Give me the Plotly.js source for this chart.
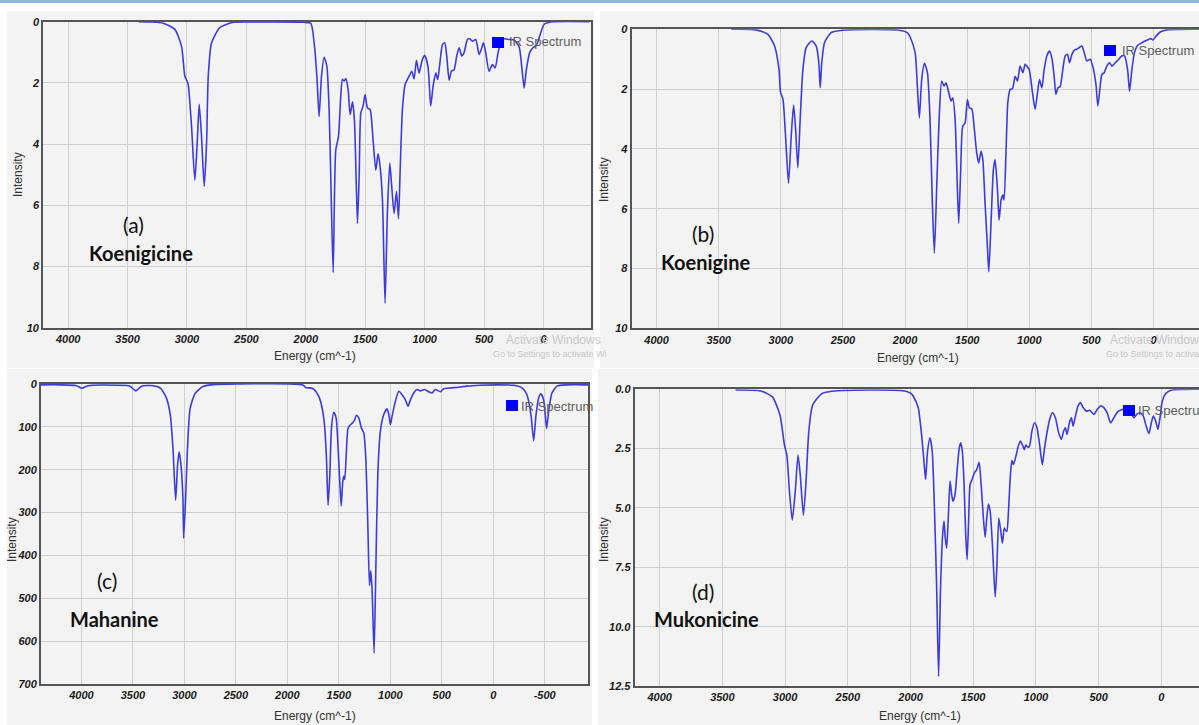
<!DOCTYPE html>
<html>
<head>
<meta charset="utf-8">
<script src="https://cdn.plot.ly/plotly-3.0.1.min.js"></script>
<style>html,body{margin:0;padding:0;background:#fff;}#chart{width:1199px;height:725px;}</style>
</head>
<body>
<div id="chart"></div>
<script>
// ---- Data (wavenumber cm^-1, intensity) ----
const wnA  = [3407,3300,3200,3102,3046,3018,3004,2990,2962,2934,2914,2897,2878,2855,2835,2821,2793,2723,2611,2400,2022,1958,1930,1907,1888,1868,1846,1823,1804,1790,1770,1748,1725,1706,1692,1678,1664,1644,1627,1607,1591,1577,1565,1551,1537,1518,1501,1481,1459,1434,1411,1392,1375,1355,1333,1313,1293,1277,1257,1237,1220,1206,1187,1164,1131,1108,1089,1069,1047,1020,999,971,949,929,906,890,873,850,831,814,794,775,752,730,710,688,668,640,620,598,570,542,522,505,486,458,430,407,382,360,332,290,248,205,183,163,144,116,88,60,32,-5,-61,-384];
const intA = [0,0.01,0.05,0.25,0.8,1.78,1.9,2.05,3.4,5.18,3.95,2.7,3.72,5.38,3.95,1.78,0.69,0.19,0.02,0.01,0.02,0.05,0.69,1.78,3.1,1.78,1.16,1.45,2.87,5.05,8.2,4.2,3.75,2.44,1.88,1.94,1.86,2.21,3.04,2.62,3.2,5.05,6.6,5.05,2.98,2.76,2.38,2.82,2.87,3.86,4.85,4.32,4.73,5.83,9.2,6.16,4.62,5.39,6.27,5.55,6.44,4.85,2.87,2.05,1.78,1.62,1.87,1.26,1.68,1.25,1.1,1.5,2.75,2.11,1.67,1.89,1.4,0.75,0.69,1.12,1.91,1.62,1.57,1.12,0.85,1.12,1.01,0.58,0.56,0.64,0.58,1.07,0.89,0.69,1.01,1.62,1.4,1.51,1.01,0.69,0.56,0.58,0.6,0.82,1.46,2.17,1.57,1.01,0.85,0.78,0.47,0.09,0.01,0];

const wnB  = [3398,3197,3104,3050,3015,3002,2983,2962,2938,2916,2897,2881,2863,2844,2822,2796,2750,2715,2694,2683,2670,2648,2595,2501,2046,1979,1960,1919,1901,1885,1866,1844,1820,1799,1780,1764,1745,1726,1705,1686,1670,1651,1629,1616,1597,1581,1568,1552,1536,1517,1498,1482,1463,1442,1423,1407,1388,1374,1356,1337,1326,1307,1289,1275,1256,1243,1227,1213,1203,1186,1173,1154,1135,1114,1095,1074,1052,1033,1020,1001,974,953,934,918,899,880,859,837,819,800,786,770,752,730,711,692,676,657,636,617,598,577,558,537,510,483,462,448,429,416,397,376,354,335,308,281,255,233,209,193,174,153,129,94,67,40,21,5,-22,-54,-108,-368];
const intB = [0,0.02,0.17,0.56,1.33,2.11,2.33,3.56,5.15,3.56,2.53,3.33,4.63,3.0,1.33,0.61,0.39,0.56,1.11,1.95,1.11,0.44,0.11,0.03,0.03,0.12,0.25,0.78,1.9,2.96,1.68,1.14,1.45,3.02,5.82,7.49,5.26,3.02,1.73,1.9,1.79,2.07,2.4,2.29,3.02,5.03,6.49,4.7,3.24,3.13,2.35,2.63,2.66,3.36,4.14,4.47,4.08,4.36,5.82,7.27,8.11,6.38,4.7,4.36,5.37,6.38,5.71,5.54,5.71,3.91,2.46,2.01,1.99,1.57,1.73,1.23,1.45,1.17,1.23,1.34,2.13,2.68,2.13,1.68,1.96,1.34,0.89,0.73,0.95,1.57,2.18,1.96,1.92,1.34,0.89,0.84,1.12,0.84,0.69,0.67,0.61,0.56,0.78,1.06,1.0,1.34,1.9,2.57,1.9,1.51,1.45,1.23,1.12,1.23,1.12,1.01,0.89,0.89,1.34,2.07,1.34,0.78,0.54,0.45,0.39,0.34,0.31,0.36,0.22,0.09,0.02,0];

const wnC  = [4393,4200,4048,3995,3937,3650,3528,3472,3416,3304,3230,3174,3137,3111,3085,3066,3051,3033,3014,3007,2988,2970,2944,2895,2821,2746,1854,1816,1779,1743,1694,1662,1639,1620,1604,1587,1571,1549,1526,1510,1494,1477,1461,1451,1442,1426,1410,1387,1371,1348,1329,1306,1280,1257,1238,1218,1202,1189,1176,1157,1141,1121,1096,1063,1031,1011,998,982,950,917,885,853,827,804,772,740,707,668,626,594,562,513,481,416,351,254,125,-37,-199,-280,-328,-367,-393,-416,-441,-464,-490,-506,-519,-539,-571,-620,-717,-923];
const intC = [2,2,4,10,4,3,5,16,5,4,10,33,72,150,271,189,158,189,267,360,267,150,57,22,6,2,2,9,9,12,29,56,95,172,283,211,103,66,79,134,211,285,227,215,223,157,103,95,92,85,73,79,103,114,172,328,470,436,483,628,444,211,110,71,58,75,95,75,40,17,25,37,52,37,21,13,16,13,18,21,13,18,11,9,8,5,3,2,3,9,25,72,132,72,33,23,37,72,104,64,21,5,2,2];

const wnD  = [3395,3195,3103,3041,3005,2986,2965,2943,2919,2897,2879,2854,2833,2811,2780,2704,2581,2059,1997,1979,1939,1912,1893,1880,1864,1845,1827,1811,1792,1776,1760,1744,1733,1723,1712,1699,1685,1672,1661,1645,1627,1611,1600,1587,1573,1560,1549,1536,1525,1509,1491,1472,1453,1437,1419,1405,1392,1379,1365,1347,1325,1312,1296,1280,1267,1253,1245,1232,1219,1205,1192,1179,1160,1144,1125,1104,1093,1080,1064,1051,1032,1011,992,971,949,931,912,891,869,845,819,797,779,765,752,733,717,704,685,664,645,624,597,571,539,512,485,459,432,405,379,347,312,277,245,219,197,171,144,125,99,80,64,45,27,11,-8,-35,-75,-307];
const intD = [0.03,0.07,0.31,1.08,2.35,2.77,4.31,5.51,4.31,2.77,3.61,5.3,3.89,1.78,0.66,0.17,0.06,0.06,0.17,0.28,0.77,1.9,3.03,3.8,2.6,2.04,2.6,4.72,8.24,12.1,8.24,6.13,5.55,6.27,6.69,5.42,3.87,4.44,4.72,4.44,3.31,2.46,2.25,2.6,4.01,6.13,7.18,5.42,4.01,3.8,3.52,3.38,3.08,4.01,5.42,6.24,5.42,4.83,5.14,6.55,8.75,7.53,5.42,5.99,6.48,5.85,5.92,5.99,5.14,3.73,3.0,3.17,2.82,2.46,2.18,2.39,2.54,2.35,2.44,2.39,1.76,1.41,1.62,2.32,3.17,2.46,1.83,1.27,0.99,1.2,1.83,2.11,1.76,1.62,1.9,1.41,1.2,1.55,1.13,0.7,0.56,0.77,0.92,0.88,1.06,0.85,0.7,0.77,0.99,1.41,1.2,0.94,0.85,0.8,0.94,1.2,1.06,0.99,1.13,1.48,1.87,1.41,1.13,1.34,1.69,1.2,0.49,0.18,0.04,0];

// x tick values / labels (plain hyphen minus as in the reference)
const xTickVals = [4000,3500,3000,2500,2000,1500,1000,500,0,-500];
const xTickText = ['4000','3500','3000','2500','2000','1500','1000','500','0','-500'];

const panelLetters = ['(a)','(b)','(c)','(d)'];
const compounds = ['Koenigicine','Koenigine','Mahanine','Mukonicine'];
const seriesName = 'IR Spectrum';
const xTitle = 'Energy (cm^-1)';
const yTitle = 'Intensity';

// ---- Layout geometry (pixels) ----
const W = 1199, H = 725;
const px = v => v / W, py = v => 1 - v / H;
const panels = [
  {l:43.2, r:591,  t:21.7,  b:327.7, xr:[4210,-400], yr:[10,0],   dt:2,   fmt:'d'},
  {l:631.6,r:1199, t:29.3,  b:328.3, xr:[4201,-366], yr:[10,0],   dt:2,   fmt:'d'},
  {l:41,   r:588.2,t:384,   b:684,   xr:[4393,-923], yr:[700,0],  dt:100, fmt:'d'},
  {l:634.7,r:1199, t:389.3, b:686,   xr:[4199,-300], yr:[12.5,0], dt:2.5, fmt:'.1f'}
];
const series = [[wnA,intA],[wnB,intB],[wnC,intC],[wnD,intD]];

const tickFont = {family:'"Liberation Sans Narrow","Arial Narrow","Liberation Sans",Arial,sans-serif', size:11, color:'#1a1a1a', weight:'bold', style:'italic'};
const lineCol = '#3c3cdc';

const traces = series.map((s,i) => ({
  x: s[0], y: s[1], type:'scatter', mode:'lines', name: seriesName,
  line:{color:lineCol, width:1.6, shape:'spline', smoothing:0.6},
  xaxis: i===0?'x':'x'+(i+1), yaxis: i===0?'y':'y'+(i+1), showlegend:false, hoverinfo:'x+y'
}));

const layout = {
  width:W, height:H, margin:{l:0,r:0,t:0,b:0}, paper_bgcolor:'#ffffff', plot_bgcolor:'#f2f2f2',
  showlegend:false, shapes:[], annotations:[]
};

// outer panel backgrounds and the top blue strip
const outer = [[7,594,11,368],[600,1199,11,368],[7,592,369,725],[598,1199,369,725]];
layout.shapes.push({type:'rect', xref:'paper', yref:'paper', x0:0, x1:1, y0:py(3), y1:1, fillcolor:'#8db4e2', line:{width:0}, layer:'below'});
outer.forEach(o => layout.shapes.push({type:'rect', xref:'paper', yref:'paper', x0:px(o[0]), x1:px(o[1]), y0:py(o[3]), y1:py(o[2]), fillcolor:'#f3f3f3', line:{width:0}, layer:'below'}));

panels.forEach((p,i) => {
  const k = i===0?'':String(i+1);
  layout['xaxis'+k] = {domain:[px(p.l), px(p.r)], range:p.xr, anchor:'y'+k, tickmode:'array', tickvals:xTickVals, ticktext:xTickText,
    showgrid:true, gridcolor:'#cfcfcf', gridwidth:1, zeroline:false, showline:true, mirror:true,
    linecolor:'#555555', linewidth:2, ticks:'', tickfont:tickFont, fixedrange:true};
  layout['yaxis'+k] = {domain:[py(p.b), py(p.t)], range:p.yr, anchor:'x'+k, dtick:p.dt, tick0:0, tickformat:p.fmt,
    showgrid:true, gridcolor:'#cfcfcf', gridwidth:1, zeroline:false, showline:true, mirror:true,
    linecolor:'#555555', linewidth:2, ticks:'', tickfont:tickFont, fixedrange:true};
});

// axis titles
const titleFont = {family:'"Liberation Sans",Arial,sans-serif', size:12, color:'#333333'};
const xt = [[315,356],[918,358],[315,716],[920,716]];
const yt = [[18,175],[604,180],[12,540],[604,540]];
xt.forEach(c => layout.annotations.push({xref:'paper',yref:'paper',x:px(c[0]),y:py(c[1]),text:xTitle,showarrow:false,font:titleFont,xanchor:'center',yanchor:'middle'}));
yt.forEach(c => layout.annotations.push({xref:'paper',yref:'paper',x:px(c[0]),y:py(c[1]),text:yTitle,textangle:-90,showarrow:false,font:titleFont,xanchor:'center',yanchor:'middle'}));

// legend-like boxes
const leg = [[492,37,507,42],[1104,45,1120,50],[506,400,519,406],[1123,405,1136,411]];
leg.forEach(g => {
  layout.shapes.push({type:'rect', xref:'paper', yref:'paper', x0:px(g[0]), x1:px(g[0]+12), y0:py(g[1]+11), y1:py(g[1]), fillcolor:'#0000ff', line:{width:0}});
  layout.annotations.push({xref:'paper',yref:'paper',x:px(g[2]),y:py(g[3]),text:seriesName,showarrow:false,xanchor:'left',yanchor:'middle',font:{family:'"Liberation Sans",Arial,sans-serif',size:13,color:'#5e5e5e'}});
});

// panel labels
const lab = [[133,225,141,253],[703,234,705,262],[107,580,114,619],[703,591,706,619]];
lab.forEach((c,i) => {
  layout.annotations.push({xref:'paper',yref:'paper',x:px(c[0]),y:py(c[1]),text:panelLetters[i],showarrow:false,xanchor:'center',yanchor:'middle',font:{family:'Lato,"Open Sans",sans-serif',size:21,color:'#111111'}});
  layout.annotations.push({xref:'paper',yref:'paper',x:px(c[2]),y:py(c[3]),text:'<b>'+compounds[i]+'</b>',showarrow:false,xanchor:'center',yanchor:'middle',font:{family:'Lato,"Open Sans",sans-serif',size:20,color:'#111111'}});
});

// faint OS watermark text
[[504,340,'Activate Windows',12],[491,354,'Go to Settings to activate Wi',9],[1108,340,'Activate Windows',12],[1104,354,'Go to Settings to activate',9]].forEach(w => {
  layout.annotations.push({xref:'paper',yref:'paper',x:px(w[0]),y:py(w[1]),text:w[2],showarrow:false,xanchor:'left',yanchor:'middle',font:{family:'"Liberation Sans",Arial,sans-serif',size:w[3],color:'#c8c8c8'}});
});

Plotly.newPlot('chart', traces, layout, {staticPlot:true, displayModeBar:false});
</script>
</body>
</html>
